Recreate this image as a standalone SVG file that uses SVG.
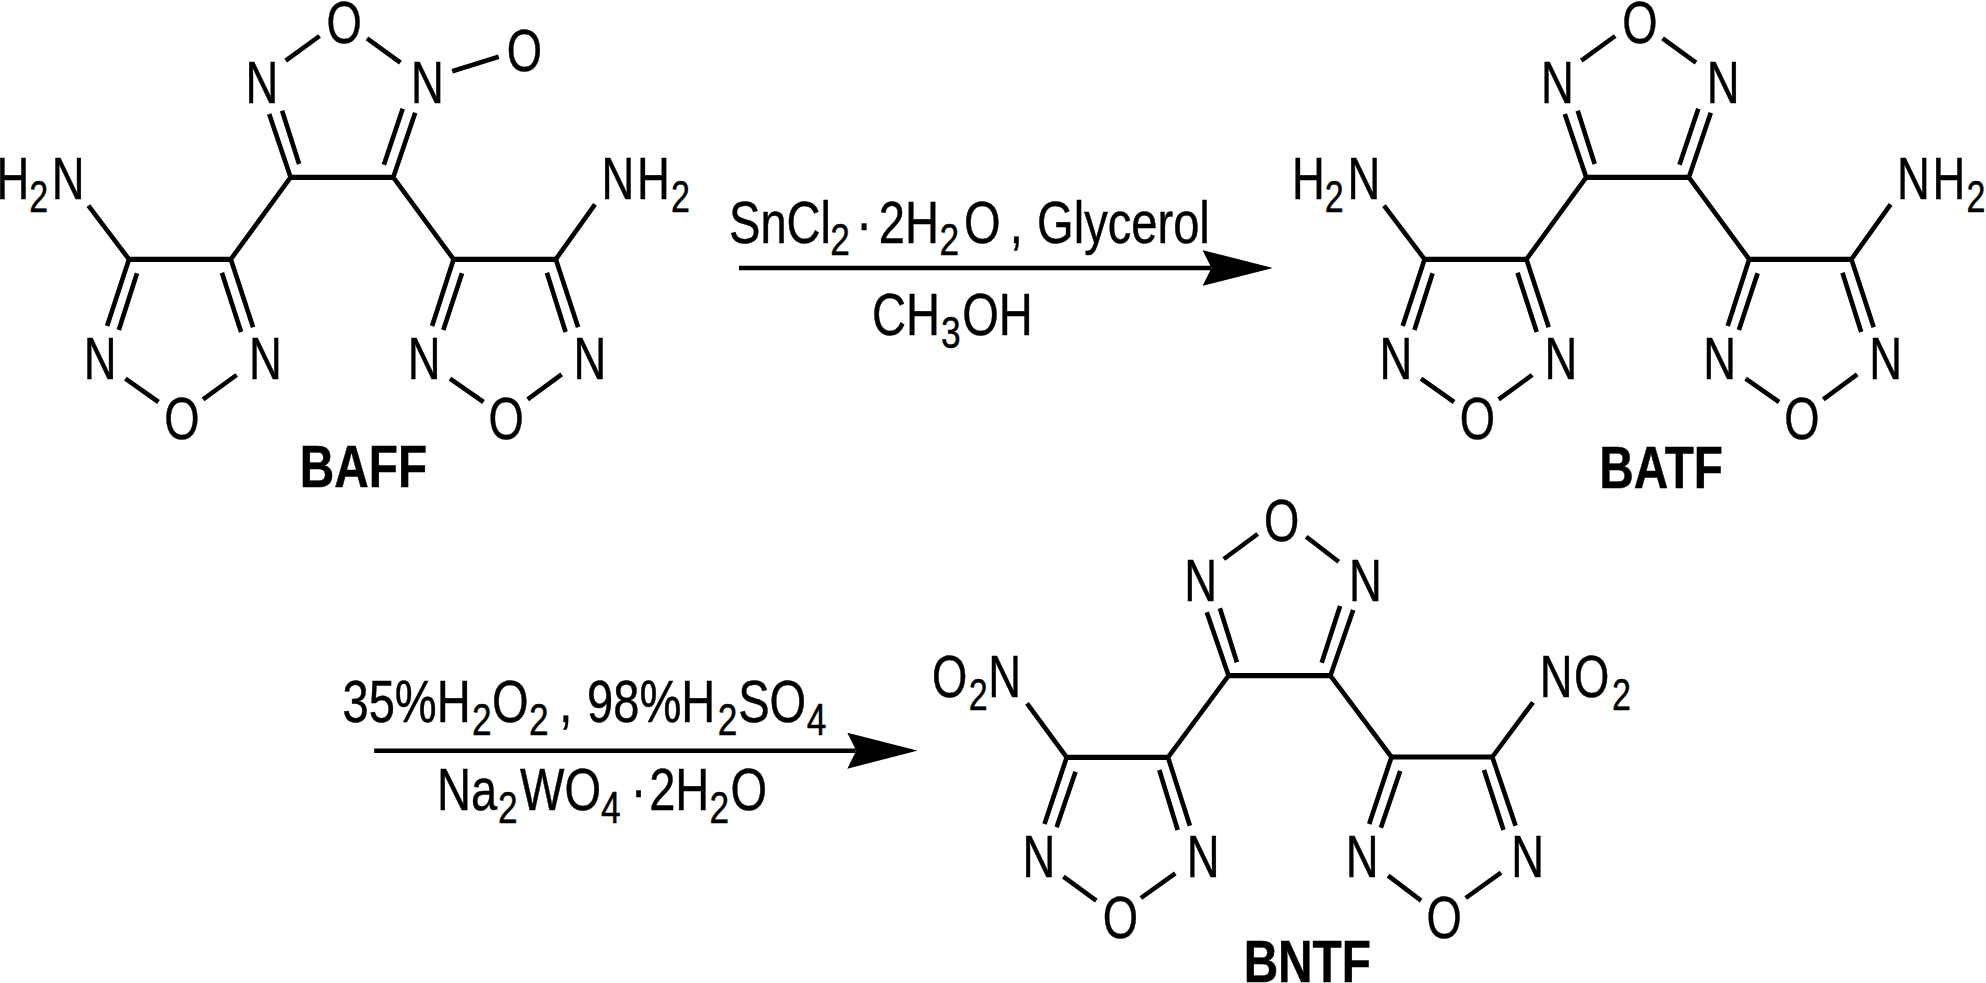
<svg xmlns="http://www.w3.org/2000/svg" xmlns:xlink="http://www.w3.org/1999/xlink" width="1986" height="983" viewBox="0 0 1986 983">
<style>
.b{fill:none;stroke:#000;stroke-width:4.6;stroke-linejoin:round}
.h{fill:none;stroke:#000;stroke-width:5.2}
.arr{fill:none;stroke:#000;stroke-width:4.4}
text{font-family:"Liberation Sans",Arial,sans-serif;font-size:60px;fill:#000;stroke:#000;stroke-width:.5}
.m{text-anchor:middle}
.t{font-weight:700;text-anchor:middle}
.s{font-size:45px}
</style>
<defs>
<marker id="head" viewBox="0 0 70 36" markerUnits="userSpaceOnUse" markerWidth="70" markerHeight="36" refX="8.5" refY="18" orient="auto"><path d="M0 0L70 18L0 36L9 18Z" fill="#000"/></marker>
<g id="core">
<path class="b" d="M285.7 60.7L319.6 36M367 38.3L400.4 62.7M269.2 114L290.6 177.3L230.8 259.3L253.1 327.3M282.1 110.7L299.1 164M415.2 112.7L393.3 177.3L453.6 259.3L432.1 326M402.7 108.7L383.9 164.7M88.4 205.7L129 259.3L107.1 326M137 273.3L118.8 330M221.9 272.7L241.1 332M125.4 378.7L158.5 402M236.6 375L203.1 399.3M595 204.3L555.8 259.3L578.1 327.3M462 273.3L443.3 330M546.9 272.7L565.6 332M450 378.7L483.5 402M561.6 374.3L527.7 399.3"/>
<path class="h" d="M290.6 177.3H393.3M129 259.3H230.8M453.6 259.3H555.8"/>
</g>
</defs>
<rect width="1986" height="983" fill="#fff"/>
<g id="BAFF">
<use href="#core" xlink:href="#core"/>
<path class="b" d="M452.2 71.3L498.7 56.7"/>
<text class="m" transform="translate(261.8 102.7) scale(.757 1)">N</text>
<text class="m" transform="translate(344.2 42.6) scale(.757 1)">O</text>
<text class="m" transform="translate(427.5 102.7) scale(.757 1)">N</text>
<text class="m" transform="translate(524.5 71) scale(.757 1)">O</text>
<text class="m" transform="translate(100.2 379.3) scale(.757 1)">N</text>
<text class="m" transform="translate(265.4 379.3) scale(.757 1)">N</text>
<text class="m" transform="translate(181.9 439.4) scale(.757 1)">O</text>
<text class="m" transform="translate(424.1 379.3) scale(.757 1)">N</text>
<text class="m" transform="translate(590 379.3) scale(.757 1)">N</text>
<text class="m" transform="translate(506.2 439.4) scale(.757 1)">O</text>
<text transform="translate(-3.6 199.3) scale(.757 1)">H<tspan class="s" dy="13">2</tspan><tspan dy="-13" dx="4.9">N</tspan></text>
<text transform="translate(601.4 199.3) scale(.757 1)">N<tspan dx="3.6">H</tspan><tspan class="s" dy="13" dx="1.6">2</tspan></text>
<text class="t" transform="translate(363.4 486.7) scale(.796 1)">BAFF</text>
</g>
<g id="BATF" transform="translate(1295.6 0)">
<use href="#core" xlink:href="#core"/>
<text class="m" transform="translate(261.8 102.7) scale(.757 1)">N</text>
<text class="m" transform="translate(344.2 42.6) scale(.757 1)">O</text>
<text class="m" transform="translate(427.5 102.7) scale(.757 1)">N</text>
<text class="m" transform="translate(100.2 379.3) scale(.757 1)">N</text>
<text class="m" transform="translate(265.4 379.3) scale(.757 1)">N</text>
<text class="m" transform="translate(181.9 439.4) scale(.757 1)">O</text>
<text class="m" transform="translate(424.1 379.3) scale(.757 1)">N</text>
<text class="m" transform="translate(590 379.3) scale(.757 1)">N</text>
<text class="m" transform="translate(506.2 439.4) scale(.757 1)">O</text>
<text transform="translate(-3.6 199.3) scale(.757 1)">H<tspan class="s" dy="13">2</tspan><tspan dy="-13" dx="4.9">N</tspan></text>
<text transform="translate(601.4 199.3) scale(.757 1)">N<tspan dx="3.6">H</tspan><tspan class="s" dy="13" dx="1.6">2</tspan></text>
<text class="t" transform="translate(365.5 488.3) scale(.796 1)">BATF</text>
</g>
<g id="BNTF">
<path class="b" d="M1223.8 559L1257.7 534M1306.2 536.7L1338.7 561.7M1206.8 612.3L1228.6 675.7L1168 757.3L1189.9 825.7M1219.9 608.3L1236.9 662.3M1353.2 610L1330.4 675.7L1391.5 757L1369.2 824M1340.1 606L1321.7 662.7M1027 703.3L1066.7 757.3L1044.5 824M1075.5 771.7L1056.6 827.3M1159.3 770L1177.7 830M1063.4 876.7L1096.3 900.7M1175.3 873.3L1140.9 898M1533 702.3L1492.3 757L1515.6 825.7M1400.2 771L1380.9 827.7M1484 770L1503.5 830M1388.1 875.7L1421.1 900.7M1501 872.7L1465.7 898"/>
<path class="h" d="M1228.6 675.7H1330.4M1066.7 757.3H1168M1391.5 757H1492.3"/>
<text class="m" transform="translate(1200.7 600.7) scale(.757 1)">N</text>
<text class="m" transform="translate(1281.7 541) scale(.757 1)">O</text>
<text class="m" transform="translate(1365.5 600.7) scale(.757 1)">N</text>
<text class="m" transform="translate(1038.9 877.3) scale(.757 1)">N</text>
<text class="m" transform="translate(1203.2 877.3) scale(.757 1)">N</text>
<text class="m" transform="translate(1120.5 937.6) scale(.757 1)">O</text>
<text class="m" transform="translate(1362.2 877.3) scale(.757 1)">N</text>
<text class="m" transform="translate(1527.7 877.3) scale(.757 1)">N</text>
<text class="m" transform="translate(1444.2 937.6) scale(.757 1)">O</text>
<text transform="translate(932 697.3) scale(.757 1)">O<tspan class="s" dy="13" dx="2">2</tspan><tspan dy="-13" dx=".6">N</tspan></text>
<text transform="translate(1539.7 697.3) scale(.757 1)">N<tspan dx="2">O</tspan><tspan class="s" dy="13" dx="3.5">2</tspan></text>
<text class="t" transform="translate(1307.3 981.7) scale(.796 1)">BNTF</text>
</g>
<g id="connectors">
<line class="arr" x1="739" y1="268" x2="1211" y2="268" marker-end="url(#head)"/>
<line class="arr" x1="374.2" y1="750.7" x2="855.8" y2="750.7" marker-end="url(#head)"/>
</g>
<g id="reagents">
<text transform="translate(729 242.7) scale(.785 1)">SnCl<tspan class="s" dy="12.7" dx="-1">2</tspan><tspan dy="-12.7" dx="8">·</tspan><tspan dx="8.7">2H</tspan><tspan class="s" dy="12.7" dx=".8">2</tspan><tspan dy="-12.7" dx="6.1">O</tspan><tspan dx="-5"> ,</tspan><tspan dx="1.5"> Glycerol</tspan></text>
<text transform="translate(872 335.3) scale(.785 1)">CH<tspan class="s" dy="12.7" dx="1.3">3</tspan><tspan dy="-12.7" dx="2">OH</tspan></text>
<text transform="translate(342.5 722) scale(.785 1)">35%H<tspan class="s" dy="13" dx="1.5">2</tspan><tspan dy="-13" dx=".5">O</tspan><tspan class="s" dy="13" dx=".5">2</tspan><tspan dy="-13" dx="-3"> ,</tspan><tspan dx="2"> 98%H</tspan><tspan class="s" dy="13" dx="3">2</tspan><tspan dy="-13" dx="1">SO</tspan><tspan class="s" dy="13" dx=".6">4</tspan></text>
<text transform="translate(437 810) scale(.785 1)">Na<tspan class="s" dy="12.5" dx="1">2</tspan><tspan dy="-12.5" dx="3">WO</tspan><tspan class="s" dy="12.5">4</tspan><tspan dy="-12.5" dx="12.7">·</tspan><tspan dx="3.6">2H</tspan><tspan class="s" dy="12.5">2</tspan><tspan dy="-12.5" dx="2">O</tspan></text>
</g>
</svg>
